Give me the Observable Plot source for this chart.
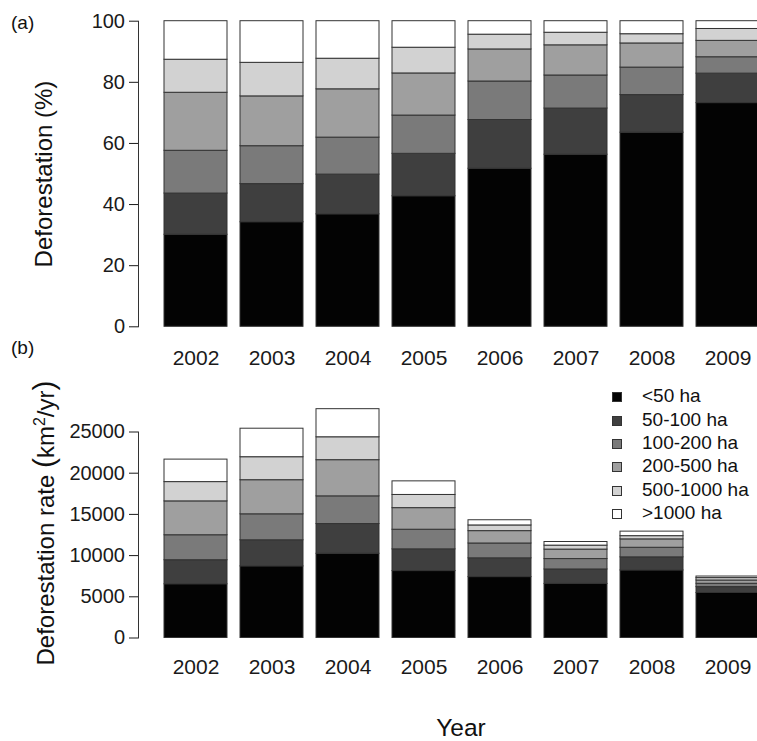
<!DOCTYPE html>
<html><head><meta charset="utf-8">
<script src="https://cdn.jsdelivr.net/npm/d3@7"></script>
<script src="https://cdn.jsdelivr.net/npm/@observablehq/plot@0.6"></script>
<style>
html,body{margin:0;padding:0;background:#fff;overflow:hidden;}
#wrap{position:relative;width:757px;height:741px;overflow:hidden;font-family:'Liberation Sans',Arial,sans-serif;color:#111;background:#fff;}
.panel{position:absolute;left:0;}
.lab{position:absolute;white-space:nowrap;line-height:1;}
.rot{transform:translate(-50%,-50%) rotate(-90deg);}
.leg{position:absolute;left:612px;width:145px;font-size:19px;height:23.4px;line-height:23.4px;white-space:nowrap;}
.sw{position:absolute;left:0;top:8px;width:10px;height:10px;box-sizing:border-box;border:1px solid #333;}
.lt{position:absolute;left:30px;top:0;}
</style></head>
<body>
<div id="wrap">
  <div id="top" class="panel" style="top:0"></div>
  <div id="bot" class="panel" style="top:371px"></div>
  <div class="lab" style="left:11px;top:12.9px;font-size:19px">(a)</div>
  <div class="lab" style="left:11px;top:337.9px;font-size:19px">(b)</div>
  <div class="lab rot" style="left:44px;top:173.5px;font-size:24px">Deforestation (%)</div>
  <div class="lab rot" style="left:44px;top:523px;font-size:24px">Deforestation rate <span style="font-size:30px">(</span>km<span style="font-size:16px;position:relative;top:-0.55em">2</span>/yr<span style="font-size:30px">)</span></div>
  <div class="lab" style="left:461px;top:716px;font-size:24.5px;transform:translateX(-50%)">Year</div>
  <div id="legend"></div>
</div>
<script>
const years = ["2002","2003","2004","2005","2006","2007","2008","2009"];
const classes = ["<50 ha","50-100 ha","100-200 ha","200-500 ha","500-1000 ha",">1000 ha"];
const grays = ["#030303","#3f3f3f","#7a7a7a","#9f9f9f","#d2d2d2","#ffffff"];
// deforestation rate by clearing size class (km2/yr)
const lt50      = [6520, 8690, 10220, 8120, 7390, 6560, 8200, 5460];
const c50_100   = [2920, 3170, 3610, 2640, 2280, 1760, 1590, 720];
const c100_200  = [3030, 3150, 3360, 2380, 1800, 1260, 1160, 400];
const c200_500  = [4110, 4140, 4390, 2620, 1500, 1150, 1020, 400];
const c500_1000 = [2340, 2790, 2780, 1600, 690, 480, 390, 290];
const gt1000    = [2730, 3460, 3410, 1650, 630, 440, 550, 190];
const pctTicks = [0, 20, 40, 60, 80, 100];
const rateTicks = [0, 5000, 10000, 15000, 20000, 25000];

const series = [lt50, c50_100, c100_200, c200_500, c500_1000, gt1000];
const rows = [];
classes.forEach((c, i) => years.forEach((y, j) => rows.push({year: y, cls: c, value: series[i][j]})));

const font = "'Liberation Sans', Arial, sans-serif";
const xOpts = {domain: years, range: [139.7, 783.8], paddingInner: 1/6, paddingOuter: 0.313, align: 0.5};
const colorOpts = {domain: classes, range: grays};

const topPlot = Plot.plot({
  width: 757, height: 371, marginLeft: 138, marginRight: 0, marginTop: 20.7, marginBottom: 44.7,
  style: {fontFamily: font, background: "transparent", color: "#1a1a1a"},
  x: xOpts,
  y: {domain: [0, 100], percent: true},
  color: colorOpts,
  marks: [
    Plot.barY(rows, {x: "year", y: "value", fill: "cls", offset: "normalize", stroke: "#333", strokeWidth: 1}),
    Plot.axisX({tickSize: 0, tickPadding: 23, fontSize: 21, label: null}),
    Plot.axisY({ticks: pctTicks, tickSize: 9, tickPadding: 4.5, fontSize: 20, label: null}),
    Plot.frame({anchor: "left", stroke: "#333"})
  ]
});
document.getElementById("top").appendChild(topPlot);

const botPlot = Plot.plot({
  width: 757, height: 370, marginLeft: 138, marginRight: 0, marginTop: 60.5, marginBottom: 103.5,
  style: {fontFamily: font, background: "transparent", color: "#1a1a1a"},
  x: xOpts,
  y: {domain: [0, 25000]},
  color: colorOpts,
  marks: [
    Plot.barY(rows, {x: "year", y: "value", fill: "cls", stroke: "#333", strokeWidth: 1}),
    Plot.axisX({tickSize: 0, tickPadding: 20.6, fontSize: 21, label: null}),
    Plot.axisY({ticks: rateTicks, tickFormat: d3.format("d"), tickSize: 9, tickPadding: 4.5, fontSize: 20, label: null}),
    Plot.frame({anchor: "left", stroke: "#333"})
  ]
});
document.getElementById("bot").appendChild(botPlot);

const leg = document.getElementById("legend");
classes.forEach((c, i) => {
  const row = document.createElement("div");
  row.className = "leg";
  row.style.top = (384.2 + i * 23.4) + "px";
  const sw = document.createElement("div");
  sw.className = "sw";
  sw.style.background = grays[i];
  const t = document.createElement("span");
  t.className = "lt";
  t.textContent = c;
  row.appendChild(sw); row.appendChild(t);
  leg.appendChild(row);
});
</script>
</body></html>
